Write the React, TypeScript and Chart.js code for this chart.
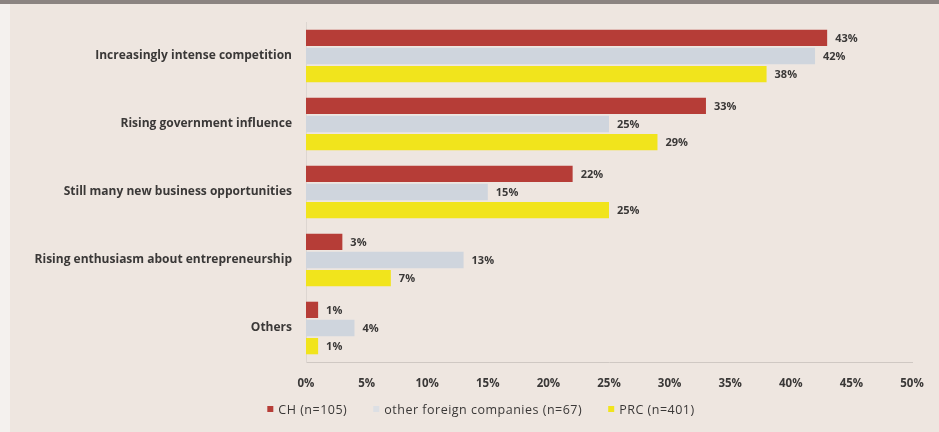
import React, { useEffect, useRef } from "react";
import { Chart, registerables } from "chart.js";

Chart.register(...registerables);

const categories = [
  "Increasingly intense competition",
  "Rising government influence",
  "Still many new business opportunities",
  "Rising enthusiasm about entrepreneurship",
  "Others",
];
const seriesNames = ["CH (n=105)", "other foreign companies (n=67)", "PRC (n=401)"];
const chValues = [43, 33, 22, 3, 1];
const otherValues = [42, 25, 15, 13, 4];
const prcValues = [38, 29, 25, 7, 1];
const xTicks = [0, 5, 10, 15, 20, 25, 30, 35, 40, 45, 50];

const COLORS = ["#b63d37", "#cfd5dd", "#f1e41c"];
const LEGEND_COLORS = ["#b63d37", "#dcdfe4", "#f1e41c"];
const TEXT = "#3a3837";
const FONT = "'Open Sans', Lato, sans-serif";

const valueLabels = {
  id: "valueLabels",
  afterDatasetsDraw(chart: any) {
    const ctx = chart.ctx;
    ctx.save();
    ctx.font = `bold 11px ${FONT}`;
    ctx.fillStyle = TEXT;
    ctx.textBaseline = "middle";
    ctx.textAlign = "left";
    chart.data.datasets.forEach((ds: any, di: number) => {
      const meta = chart.getDatasetMeta(di);
      meta.data.forEach((bar: any, i: number) => {
        ctx.fillText(`${ds.data[i]}%`, bar.x + 8, bar.y + 1);
      });
    });
    ctx.restore();
  },
};

const customLegend = {
  id: "customLegend",
  afterDraw(chart: any) {
    const ctx = chart.ctx;
    ctx.save();
    ctx.font = `12.5px ${FONT}`;
    (ctx as any).letterSpacing = "0.5px";
    ctx.textBaseline = "middle";
    ctx.textAlign = "left";
    const box = 6;
    const gapBox = 5;
    const gapItem = 26;
    const widths = seriesNames.map((n) => box + gapBox + ctx.measureText(n).width);
    const total = widths.reduce((a, b) => a + b, 0) + gapItem * (seriesNames.length - 1);
    const centerX = 481;
    const y = 409;
    let x = centerX - total / 2;
    seriesNames.forEach((n, i) => {
      ctx.fillStyle = LEGEND_COLORS[i];
      ctx.fillRect(x, y - box / 2, box, box);
      ctx.fillStyle = TEXT;
      ctx.fillText(n, x + box + gapBox, y + 1);
      x += widths[i] + gapItem;
    });
    ctx.restore();
  },
};

export default function App() {
  const ref = useRef<HTMLCanvasElement>(null);
  useEffect(() => {
    if (!ref.current) return;
    const datasetValues = [chValues, otherValues, prcValues];
    const chart = new Chart(ref.current, {
      type: "bar",
      data: {
        labels: categories,
        datasets: seriesNames.map((name, i) => ({
          label: name,
          data: datasetValues[i],
          backgroundColor: COLORS[i],
          categoryPercentage: 0.8,
          barPercentage: 0.9,
        })),
      },
      options: {
        indexAxis: "y",
        responsive: false,
        animation: false,
        devicePixelRatio: 1,
        layout: { padding: { top: 22, left: 0, right: 27, bottom: 30 } },
        plugins: {
          legend: { display: false },
          tooltip: { enabled: false },
        },
        scales: {
          x: {
            min: 0,
            max: 50,
            afterBuildTicks: (scale: any) => {
              scale.ticks = xTicks.map((v) => ({ value: v }));
            },
            afterFit: (scale: any) => {
              scale.height = 40;
            },
            grid: { display: false, drawTicks: false },
            border: { display: true, color: "#cfc8c3", width: 1 },
            ticks: {
              padding: 15,
              color: TEXT,
              font: { family: FONT, size: 11.5, weight: "bold" },
              callback: (v: any) => `${v}%`,
              maxRotation: 0,
              autoSkip: false,
            },
          },
          y: {
            afterFit: (scale: any) => {
              scale.width = 306;
            },
            grid: { display: false, drawTicks: false },
            border: { display: true, color: "#ddd6d1", width: 1 },
            ticks: {
              padding: 14,
              color: TEXT,
              font: { family: FONT, size: 12, weight: "bold" },
              autoSkip: false,
            },
          },
        },
      },
      plugins: [valueLabels, customLegend],
    } as any);
    return () => chart.destroy();
  }, []);

  return (
    <div
      style={{
        position: "absolute",
        left: 0,
        top: 0,
        width: 939,
        height: 432,
        background: "#eee6e0",
        overflow: "hidden",
      }}
    >
      <div style={{ position: "absolute", left: 0, top: 0, width: 10, height: 432, background: "#f4f1ee" }} />
      <div style={{ position: "absolute", left: 0, top: 0, width: 939, height: 4, background: "#8b8481" }} />
      <canvas ref={ref} width={939} height={432} style={{ position: "absolute", left: 0, top: 0 }} />
    </div>
  );
}
